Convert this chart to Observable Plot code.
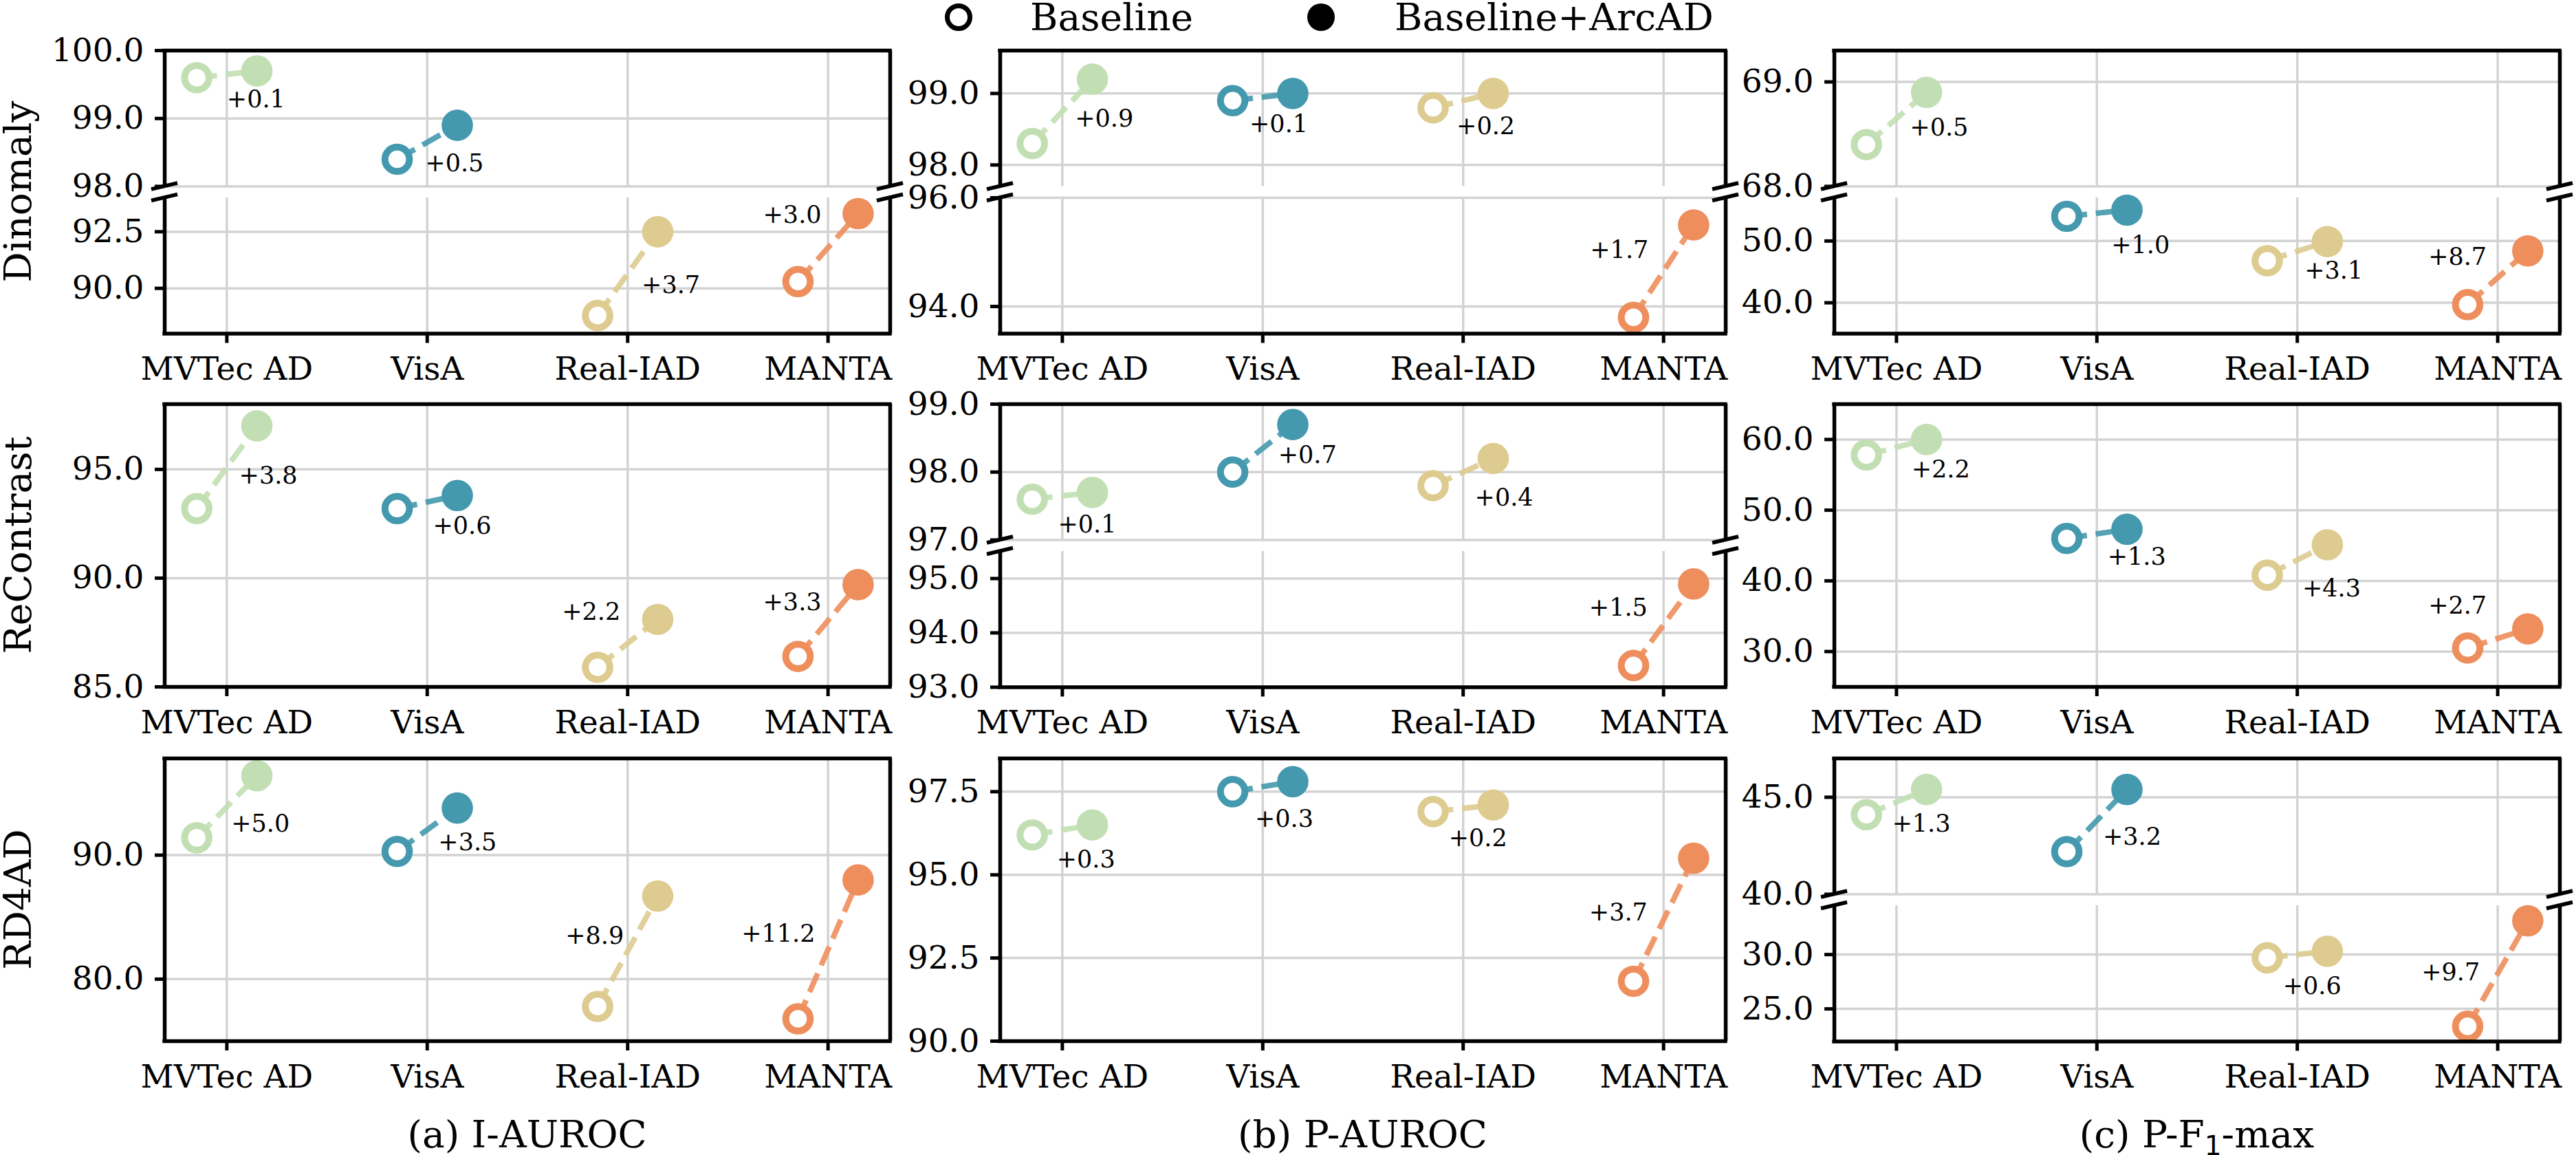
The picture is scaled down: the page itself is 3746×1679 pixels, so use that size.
<!DOCTYPE html>
<html><head><meta charset="utf-8">
<script src="https://cdn.jsdelivr.net/npm/d3@7"></script>
<script src="https://cdn.jsdelivr.net/npm/@observablehq/plot@0.6"></script>
<style>
html,body{margin:0;padding:0;background:#fff;}
#root{position:relative;width:3746px;height:1679px;overflow:hidden;font-family:'DejaVu Serif',serif;background:#fff;}
#root > svg{position:absolute;}
</style></head><body><div id="root"></div>
<script>
// ---------------- data ----------------
const datasets = ["MVTec AD", "VisA", "Real-IAD", "MANTA"];
const datasetColors = ["#c2dfb3", "#4499ae", "#ddcb90", "#ed8e5c"];
const methods = ["Dinomaly", "ReContrast", "RD4AD"];
const metricTitles = ["(a) I-AUROC", "(b) P-AUROC", "(c) P-F"];
const legendLabels = ["Baseline", "Baseline+ArcAD"];

// Dinomaly
const dinomalyIAurocBase = [99.6, 98.4, 88.8, 90.3];
const dinomalyIAurocArc  = [99.7, 98.9, 92.5, 93.3];
const dinomalyIAurocGain = ["+0.1", "+0.5", "+3.7", "+3.0"];
const dinomalyPAurocBase = [98.3, 98.9, 98.8, 93.8];
const dinomalyPAurocArc  = [99.2, 99.0, 99.0, 95.5];
const dinomalyPAurocGain = ["+0.9", "+0.1", "+0.2", "+1.7"];
const dinomalyF1Base = [68.4, 54.0, 46.8, 39.7];
const dinomalyF1Arc  = [68.9, 55.0, 49.9, 48.4];
const dinomalyF1Gain = ["+0.5", "+1.0", "+3.1", "+8.7"];
// ReContrast
const recontrastIAurocBase = [93.2, 93.2, 85.9, 86.4];
const recontrastIAurocArc  = [97.0, 93.8, 88.1, 89.7];
const recontrastIAurocGain = ["+3.8", "+0.6", "+2.2", "+3.3"];
const recontrastPAurocBase = [97.6, 98.0, 97.8, 93.4];
const recontrastPAurocArc  = [97.7, 98.7, 98.2, 94.9];
const recontrastPAurocGain = ["+0.1", "+0.7", "+0.4", "+1.5"];
const recontrastF1Base = [57.8, 46.0, 40.8, 30.5];
const recontrastF1Arc  = [60.0, 47.3, 45.1, 33.2];
const recontrastF1Gain = ["+2.2", "+1.3", "+4.3", "+2.7"];
// RD4AD
const rd4adIAurocBase = [91.4, 90.3, 77.8, 76.8];
const rd4adIAurocArc  = [96.4, 93.8, 86.7, 88.0];
const rd4adIAurocGain = ["+5.0", "+3.5", "+8.9", "+11.2"];
const rd4adPAurocBase = [96.2, 97.5, 96.9, 91.8];
const rd4adPAurocArc  = [96.5, 97.8, 97.1, 95.5];
const rd4adPAurocGain = ["+0.3", "+0.3", "+0.2", "+3.7"];
const rd4adF1Base = [44.1, 42.2, 29.7, 23.4];
const rd4adF1Arc  = [45.4, 45.4, 30.3, 33.1];
const rd4adF1Gain = ["+1.3", "+3.2", "+0.6", "+9.7"];

// gain label anchors in data units (category offset, value) and side
const dinomalyIAurocLabelDx = [0.0, -0.01, 0.07, -0.033];
const dinomalyIAurocLabelY  = [99.28, 98.34, 90.13, 93.23];
const dinomalyIAurocLabelSide = ["start", "start", "start", "end"];
const dinomalyPAurocLabelDx = [0.063, -0.066, -0.033, -0.075];
const dinomalyPAurocLabelY  = [98.64, 98.57, 98.54, 95.04];
const dinomalyPAurocLabelSide = ["start", "start", "start", "end"];
const dinomalyF1LabelDx = [0.067, 0.072, 0.036, -0.055];
const dinomalyF1LabelY  = [68.56, 49.33, 45.16, 47.34];
const dinomalyF1LabelSide = ["start", "start", "start", "end"];
const recontrastIAurocLabelDx = [0.061, 0.028, -0.036, -0.033];
const recontrastIAurocLabelY  = [94.70, 92.38, 88.43, 88.88];
const recontrastIAurocLabelSide = ["start", "start", "end", "end"];
const recontrastPAurocLabelDx = [-0.022, 0.077, 0.058, -0.08];
const recontrastPAurocLabelY  = [97.22, 98.25, 97.62, 94.46];
const recontrastPAurocLabelSide = ["start", "start", "start", "end"];
const recontrastF1LabelDx = [0.075, 0.053, 0.025, -0.055];
const recontrastF1LabelY  = [55.76, 43.37, 38.92, 36.42];
const recontrastF1LabelSide = ["start", "start", "start", "end"];
const rd4adIAurocLabelDx = [0.022, 0.055, -0.019, -0.064];
const rd4adIAurocLabelY  = [92.54, 91.0, 83.46, 83.61];
const rd4adIAurocLabelSide = ["start", "start", "end", "end"];
const rd4adPAurocLabelDx = [-0.028, -0.039, -0.072, -0.08];
const rd4adPAurocLabelY  = [95.45, 96.68, 96.1, 93.86];
const rd4adPAurocLabelSide = ["start", "start", "start", "end"];
const rd4adF1LabelDx = [-0.022, 0.03, -0.072, -0.089];
const rd4adF1LabelY  = [43.63, 42.96, 27.08, 28.33];
const rd4adF1LabelSide = ["start", "start", "start", "end"];

// y axis segments (upper first) and tick values
const dinomalyIAurocAxes = [{domain: [98, 100], ticks: [98, 99, 100]}, {domain: [88, 94], ticks: [90, 92.5]}];
const dinomalyPAurocAxes = [{domain: [97.7, 99.6], ticks: [98, 99]}, {domain: [93.5, 96], ticks: [94, 96]}];
const dinomalyF1Axes = [{domain: [68, 69.3], ticks: [68, 69]}, {domain: [35, 57], ticks: [40, 50]}];
const recontrastIAurocAxes = [{domain: [85, 98], ticks: [85, 90, 95]}];
const recontrastPAurocAxes = [{domain: [97, 99], ticks: [97, 98, 99]}, {domain: [93, 95.5], ticks: [93, 94, 95]}];
const recontrastF1Axes = [{domain: [25, 65], ticks: [30, 40, 50, 60]}];
const rd4adIAurocAxes = [{domain: [75, 97.8], ticks: [80, 90]}];
const rd4adPAurocAxes = [{domain: [90, 98.5], ticks: [90, 92.5, 95, 97.5]}];
const rd4adF1Axes = [{domain: [40, 47], ticks: [40, 45]}, {domain: [22, 34.5], ticks: [25, 30]}];

// ---------------- panel table ----------------
const panels = [
  [dinomalyIAurocBase, dinomalyIAurocArc, dinomalyIAurocGain, dinomalyIAurocLabelDx, dinomalyIAurocLabelY, dinomalyIAurocLabelSide, dinomalyIAurocAxes],
  [dinomalyPAurocBase, dinomalyPAurocArc, dinomalyPAurocGain, dinomalyPAurocLabelDx, dinomalyPAurocLabelY, dinomalyPAurocLabelSide, dinomalyPAurocAxes],
  [dinomalyF1Base, dinomalyF1Arc, dinomalyF1Gain, dinomalyF1LabelDx, dinomalyF1LabelY, dinomalyF1LabelSide, dinomalyF1Axes],
  [recontrastIAurocBase, recontrastIAurocArc, recontrastIAurocGain, recontrastIAurocLabelDx, recontrastIAurocLabelY, recontrastIAurocLabelSide, recontrastIAurocAxes],
  [recontrastPAurocBase, recontrastPAurocArc, recontrastPAurocGain, recontrastPAurocLabelDx, recontrastPAurocLabelY, recontrastPAurocLabelSide, recontrastPAurocAxes],
  [recontrastF1Base, recontrastF1Arc, recontrastF1Gain, recontrastF1LabelDx, recontrastF1LabelY, recontrastF1LabelSide, recontrastF1Axes],
  [rd4adIAurocBase, rd4adIAurocArc, rd4adIAurocGain, rd4adIAurocLabelDx, rd4adIAurocLabelY, rd4adIAurocLabelSide, rd4adIAurocAxes],
  [rd4adPAurocBase, rd4adPAurocArc, rd4adPAurocGain, rd4adPAurocLabelDx, rd4adPAurocLabelY, rd4adPAurocLabelSide, rd4adPAurocAxes],
  [rd4adF1Base, rd4adF1Arc, rd4adF1Gain, rd4adF1LabelDx, rd4adF1LabelY, rd4adF1LabelSide, rd4adF1Axes]
];

// ---------------- layout & style ----------------
const COL_LEFT = [239, 1454, 2667];
const ROW_TOP = [73, 587, 1102];
const FRAME_W = 1055, FRAME_H = 411, GAP = 16;
const X_DOMAIN = [-0.31, 3.31];
const OFF = 0.15;
const GRID = "#d3d3d3";
const FONT = "'DejaVu Serif', serif";
const TICK_FS = 47, ANN_FS = 35, BIG_FS = 55;

const root = document.getElementById("root");

function breakMark(sideY) {
  // draws the diagonal "//" break marks at the left and right spines, using the plot scales
  return (index, scales) => {
    const g = d3.create("svg:g").attr("stroke", "black").attr("stroke-width", 5.5);
    const yy = scales.y(sideY);
    for (const xv of X_DOMAIN) {
      const xx = scales.x(xv);
      g.append("line").attr("x1", xx - 19).attr("y1", yy + 4.5).attr("x2", xx + 19).attr("y2", yy - 4.5);
    }
    return g.node();
  };
}

function subPlot({rows, axis, left, top, h, isUpper, isLower, broken}) {
  const mL = 210, mR = 40, mT = 40, mB = isLower ? 110 : 40;
  const [y0, y1] = axis.domain;
  const starts = rows.filter(d => d.side === "start");
  const ends = rows.filter(d => d.side === "end");
  const marks = [
    Plot.gridX([0, 1, 2, 3], {stroke: GRID, strokeWidth: 3.5, strokeOpacity: 1}),
    Plot.gridY(axis.ticks, {stroke: GRID, strokeWidth: 3.5, strokeOpacity: 1}),
    Plot.link(rows, {x1: d => d.i - OFF, y1: "base", x2: d => d.i + OFF, y2: "arc", stroke: "color",
      strokeWidth: 8, strokeDasharray: "29.6,12.8", strokeOpacity: 0.9}),
    Plot.dot(rows, {x: d => d.i - OFF, y: "base", r: 17.8, fill: "white", stroke: "color", strokeWidth: 10}),
    Plot.dot(rows, {x: d => d.i + OFF, y: "arc", r: 17.8, fill: "color", stroke: "color", strokeWidth: 10}),
    Plot.text(starts, {x: d => d.i + d.lx, y: "ly", text: "gain", textAnchor: "start", lineAnchor: "middle", fontSize: ANN_FS, fill: "black"}),
    Plot.text(ends, {x: d => d.i + d.lx, y: "ly", text: "gain", textAnchor: "end", lineAnchor: "middle", fontSize: ANN_FS, fill: "black"}),
    Plot.axisY(axis.ticks, {tickFormat: d => d.toFixed(1), tickSize: 14, tickPadding: 16, fontSize: TICK_FS, strokeWidth: 5, label: null}),
    Plot.ruleX(X_DOMAIN, {stroke: "black", strokeWidth: 5.5}),
  ];
  if (isUpper) marks.push(Plot.ruleY([y1], {stroke: "black", strokeWidth: 5.5, strokeLinecap: "square"}));
  if (isLower) {
    marks.push(Plot.ruleY([y0], {stroke: "black", strokeWidth: 5.5, strokeLinecap: "square"}));
    marks.push(Plot.axisX([0, 1, 2, 3], {tickFormat: i => datasets[i], tickSize: 14, tickPadding: 20, fontSize: TICK_FS, strokeWidth: 5, label: null}));
  }
  if (broken) marks.push(breakMark(isUpper ? y0 : y1));
  const svg = Plot.plot({
    width: mL + FRAME_W + mR,
    height: mT + h + mB,
    marginLeft: mL, marginRight: mR, marginTop: mT, marginBottom: mB,
    x: {domain: X_DOMAIN, axis: null},
    y: {domain: axis.domain, axis: null},
    color: {type: "identity"},
    style: {fontFamily: FONT, fontSize: TICK_FS + "px", background: "transparent", overflow: "visible", color: "black"},
    marks
  });
  svg.style.position = "absolute";
  svg.style.left = (left - mL) + "px";
  svg.style.top = (top - mT) + "px";
  svg.style.maxWidth = "none";
  root.appendChild(svg);
}

panels.forEach((p, k) => {
  const [base, arc, gain, ldx, ly, side, axes] = p;
  const row = Math.floor(k / 3), col = k % 3;
  const rows = datasets.map((name, i) => ({i, name, base: base[i], arc: arc[i], gain: gain[i],
    lx: ldx[i], ly: ly[i], side: side[i], color: datasetColors[i]}));
  const left = COL_LEFT[col], top = ROW_TOP[row];
  if (axes.length === 1) {
    subPlot({rows, axis: axes[0], left, top, h: FRAME_H, isUpper: true, isLower: true, broken: false});
  } else {
    const h = (FRAME_H - GAP) / 2;
    const up = rows.filter(d => d.base >= axes[0].domain[0]);
    const lo = rows.filter(d => d.base < axes[0].domain[0]);
    subPlot({rows: up, axis: axes[0], left, top, h, isUpper: true, isLower: false, broken: true});
    subPlot({rows: lo, axis: axes[1], left, top: top + h + GAP, h, isUpper: false, isLower: true, broken: true});
  }
});

// ---------------- text: row labels, column titles, legend ----------------
const over = d3.select(root).append("svg")
  .attr("width", 3746).attr("height", 1679)
  .style("left", "0px").style("top", "0px")
  .attr("font-family", FONT);

methods.forEach((m, r) => {
  const cy = ROW_TOP[r] + FRAME_H / 2;
  over.append("text").attr("x", 45).attr("y", cy)
    .attr("transform", `rotate(-90, 45, ${cy})`)
    .attr("text-anchor", "middle").attr("font-size", BIG_FS).text(m);
});

metricTitles.forEach((t, c) => {
  const cx = COL_LEFT[c] + FRAME_W / 2;
  const txt = over.append("text").attr("x", cx).attr("y", 1668)
    .attr("text-anchor", "middle").attr("font-size", BIG_FS);
  txt.append("tspan").text(t);
  if (c === 2) {
    txt.append("tspan").attr("dy", 11).attr("font-size", 39).attr("font-family", "'DejaVu Sans', sans-serif").text("1");
    txt.append("tspan").attr("dy", -11).text("-max");
  }
});

// legend
const lg = over.append("g");
lg.append("circle").attr("cx", 1394).attr("cy", 25).attr("r", 16.5).attr("fill", "white").attr("stroke", "black").attr("stroke-width", 7);
lg.append("text").attr("x", 1498).attr("y", 44).attr("font-size", 55).text(legendLabels[0]);
lg.append("circle").attr("cx", 1921).attr("cy", 25).attr("r", 20).attr("fill", "black");
lg.append("text").attr("x", 2028).attr("y", 44).attr("font-size", 55).text(legendLabels[1]);
</script></body></html>
